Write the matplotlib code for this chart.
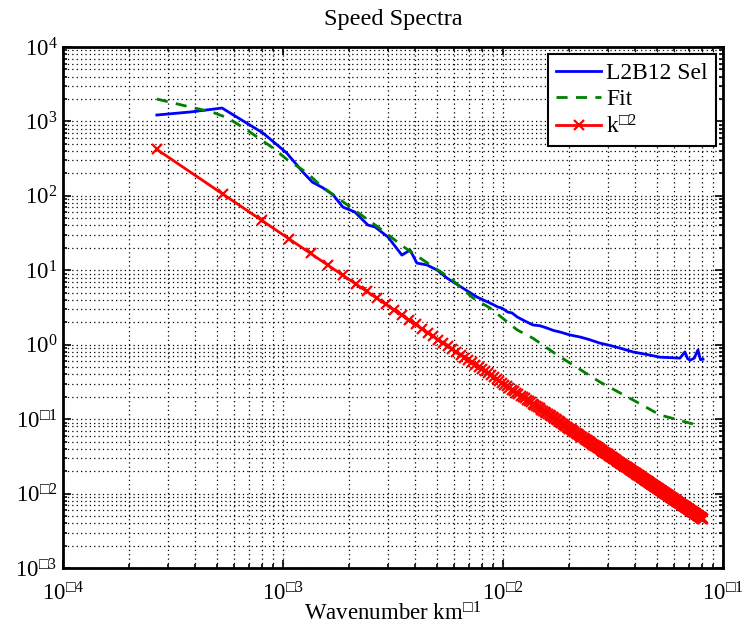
import numpy as np
import matplotlib
matplotlib.use("Agg")
import matplotlib.pyplot as plt
from matplotlib.ticker import FixedLocator, FixedFormatter, LogLocator, NullFormatter

plt.rcParams['font.family'] = ['Liberation Serif', 'DejaVu Serif']
plt.rcParams['mathtext.fontset'] = 'custom'
plt.rcParams['mathtext.rm'] = 'Liberation Serif'
plt.rcParams['mathtext.it'] = 'Liberation Serif:italic'

# measured spectrum (L2B12 Sel)
k_obs = [2.67e-4, 3.78e-4, 5.28e-4, 8.11e-4, 1.04e-3, 1.23e-3, 1.36e-3, 1.52e-3,
         1.69e-3, 1.87e-3, 2.12e-3, 2.43e-3, 2.62e-3, 3.00e-3, 3.47e-3, 3.78e-3,
         4.06e-3, 4.51e-3, 5.01e-3, 5.56e-3, 6.24e-3, 7.62e-3, 8.73e-3, 9.48e-3,
         9.89e-3, 1.05e-2, 1.10e-2, 1.16e-2, 1.25e-2, 1.37e-2, 1.47e-2, 1.58e-2,
         1.70e-2, 1.82e-2, 2.00e-2, 2.24e-2, 2.45e-2, 2.76e-2, 3.10e-2, 3.50e-2,
         3.90e-2, 4.50e-2, 5.17e-2, 5.80e-2, 6.37e-2, 6.71e-2, 6.90e-2, 7.08e-2,
         7.40e-2, 7.69e-2, 7.90e-2, 8.11e-2]
s_obs = [1220, 1339, 1514, 699, 376, 209, 153, 128,
         103, 70.8, 60.7, 40.6, 38.2, 28.0, 16.0, 18.7,
         12.5, 11.8, 10.1, 7.87, 6.34, 4.37, 3.63, 3.21,
         3.11, 2.75, 2.67, 2.36, 2.10, 1.84, 1.80, 1.68,
         1.55, 1.48, 1.36, 1.27, 1.18, 1.05, 0.97, 0.88,
         0.80, 0.74, 0.68, 0.67, 0.66, 0.80, 0.65, 0.62,
         0.66, 0.85, 0.63, 0.64]

# fitted spectrum
k_fit = [2.67e-4, 3.78e-4, 4.75e-4, 5.62e-4, 6.86e-4, 9.00e-4, 1.05e-3, 1.29e-3,
         1.47e-3, 2.02e-3, 2.70e-3, 3.59e-3, 4.91e-3, 5.74e-3, 7.31e-3, 8.73e-3,
         1.16e-2, 1.37e-2, 1.76e-2, 2.76e-2, 3.90e-2, 5.17e-2, 7.31e-2]
s_fit = [2000, 1563, 1339, 1111, 767, 440, 303, 203,
         140, 70.8, 38.2, 20.0, 10.7, 7.87, 4.24, 3.11,
         1.58, 1.22, 0.73, 0.315, 0.181, 0.114, 0.086]

# k^-2 reference: wavenumber grid step and amplitude
k_step = 2.67e-4
n_ref = 303
ref_amp = 3.0e-5
k_ref = k_step * np.arange(1, n_ref + 1)
s_ref = ref_amp * k_ref ** -2.0

xticks = [1e-4, 1e-3, 1e-2, 1e-1]
xlabels = ['$10^{\\mathrm{□4}}$', '$10^{\\mathrm{□3}}$',
           '$10^{\\mathrm{□2}}$', '$10^{\\mathrm{□1}}$']
yticks = [1e-3, 1e-2, 1e-1, 1e0, 1e1, 1e2, 1e3, 1e4]
ylabels = ['$10^{\\mathrm{□3}}$', '$10^{\\mathrm{□2}}$', '$10^{\\mathrm{□1}}$',
           '$10^{\\mathrm{0}}$', '$10^{\\mathrm{1}}$', '$10^{\\mathrm{2}}$',
           '$10^{\\mathrm{3}}$', '$10^{\\mathrm{4}}$']

fig = plt.figure(figsize=(7.45, 6.31), dpi=100)
ax = fig.add_axes([0.0846, 0.0998, 0.8859, 0.8257])

ax.loglog(k_obs, s_obs, color='#0000ff', lw=2, label='L2B12 Sel')
ax.loglog(k_fit, s_fit, color='#008000', lw=2, ls=(0, (4, 3)), label='Fit')
ax.loglog(k_ref, s_ref, color='#ff0000', lw=2, marker='x', ms=6.5, mew=1.6,
          label='k$^{\\mathrm{□2}}$')

ax.set_xlim(1e-4, 1e-1)
ax.set_ylim(1e-3, 1e4)
ax.xaxis.set_major_locator(FixedLocator(xticks))
ax.xaxis.set_major_formatter(FixedFormatter(xlabels))
ax.yaxis.set_major_locator(FixedLocator(yticks))
ax.yaxis.set_major_formatter(FixedFormatter(ylabels))
for a in (ax.xaxis, ax.yaxis):
    a.set_minor_locator(LogLocator(base=10, subs=np.arange(2, 10), numticks=20))
    a.set_minor_formatter(NullFormatter())

ax.grid(True, which='both', color='k', ls=(0, (1, 2.5)), lw=0.9)
ax.tick_params(which='both', direction='in', top=True, right=True, labelsize=16.5,
               width=1.2)
ax.tick_params(axis='x', pad=10)
ax.tick_params(axis='y', pad=4)
ax.tick_params(which='major', length=6)
ax.tick_params(which='minor', length=3)
for sp in ax.spines.values():
    sp.set_linewidth(2)

ax.set_title('Speed Spectra', fontsize=17.5, pad=16)
ax.set_xlabel('Wavenumber km$^{\\mathrm{□1}}$', fontsize=16.5, labelpad=-2)

leg = ax.legend(loc='upper right', fontsize=17, fancybox=False, framealpha=1,
                edgecolor='k', handlelength=1.9, handletextpad=0.2,
                labelspacing=0.2, borderpad=0.35, borderaxespad=0.3)
leg.get_frame().set_linewidth(1.5)

fig.savefig('out.png', dpi=100)
